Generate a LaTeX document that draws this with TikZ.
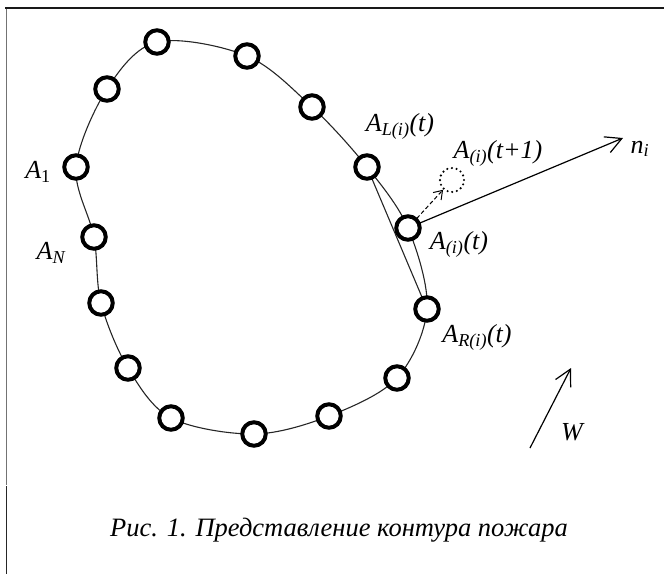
\documentclass[tikz,border=0pt]{standalone}
\usepackage{fontspec}
\setmainfont{Liberation Serif}
\usetikzlibrary{arrows.meta}
\begin{document}
\begin{tikzpicture}[x=1pt,y=-1pt,
  vert/.style={circle,draw=black,line width=4pt,fill=white,minimum size=23.5pt,inner sep=0pt},
  contour/.style={line width=1.1pt,black!85},
  lbl/.style={font=\fontsize{26}{30}\selectfont\itshape,inner sep=0pt},
  barb/.style={-{Straight Barb[length=16pt,width=17pt,line width=1.2pt]},line width=1.2pt}]
\useasboundingbox (0,0) rectangle (664,574);
% frame
\draw[line width=1pt,black!55] (6,7) -- (6,485);
\draw[line width=1.6pt,black!85] (6.5,486) -- (6.5,574);
\draw[line width=2pt,black!90] (5,8) -- (664,8);
% contour points
\coordinate (c1) at (157,42);
\coordinate (c2) at (247,56);
\coordinate (c3) at (312,107);
\coordinate (c4) at (367,167);
\coordinate (c5) at (408,228);
\coordinate (c6) at (427,309);
\coordinate (c7) at (397,378);
\coordinate (c8) at (329,416);
\coordinate (c9) at (254,434);
\coordinate (c10) at (171,418);
\coordinate (c11) at (128,368);
\coordinate (c12) at (101,303);
\coordinate (c13) at (94,237);
\coordinate (c14) at (76,167);
\coordinate (c15) at (107,89);
\draw[contour] plot[smooth cycle,tension=0.55] coordinates {(c1) (c2) (c3) (c4) (c5) (c6) (c7) (c8) (c9) (c10) (c11) (c12) (c13) (c14) (c15)};
% chord
\draw[contour] (c4) -- (c6);
% arrow tips
\coordinate (ntip) at (623,138);
\coordinate (wtail) at (530,448);
\coordinate (wtip) at (571,368);
% dotted future point
\node[circle,minimum size=24pt,inner sep=0pt,draw=black,line width=2.4pt,dash pattern=on 0pt off 4.7pt,line cap=round] (fut) at (452,180) {};
\draw[barb] (c5) -- (ntip);
\draw[-{Straight Barb[length=8pt,width=11pt,line width=1pt]},line width=1pt,dash pattern=on 4pt off 2.5pt] (c5) -- (fut);
\draw[barb] (wtail) -- (wtip);
% vertices
\foreach \i in {1,...,15} {\node[vert] (v\i) at (c\i) {};}
% labels
\node[lbl] (l1) at (38,172) {A\textsubscript{\upshape 1}};
\node[lbl] (lN) at (51,253) {A\textsubscript{N}};
\node[lbl] (lL) at (400,126) {A\textsubscript{L(i)}(t)};
\node[lbl] (lF) at (498,153) {A\textsubscript{(i)}(t+1)};
\node[lbl] (lI) at (459,244) {A\textsubscript{(i)}(t)};
\node[lbl] (lR) at (477,337) {A\textsubscript{R(i)}(t)};
\node[lbl] (ln) at (640,149) {n\textsubscript{i}};
\node[lbl] (lW) at (572,432) {W};
% caption
\node[font=\fontsize{26.5}{30}\selectfont\itshape,inner sep=0pt] (cap) at (339,530) {Рис. 1. Представление контура пожара};
\end{tikzpicture}
\end{document}
